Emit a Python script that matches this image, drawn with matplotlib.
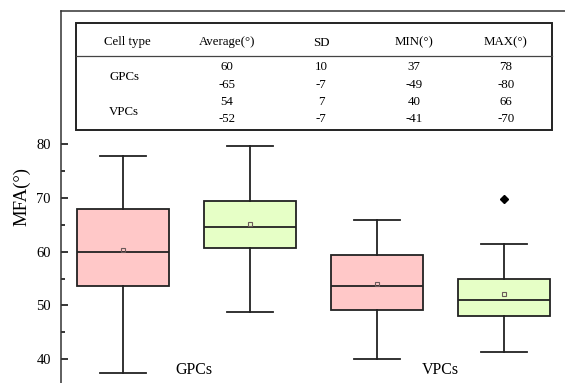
import matplotlib.pyplot as plt
from matplotlib.patches import Rectangle

plt.rcParams['font.family'] = ['Liberation Serif', 'DejaVu Serif']

# box statistics
groups = ['GPCs', 'VPCs']
positions = [1, 2, 3, 4]
whislo = [37.4, 48.8, 40.0, 41.4]
q1 = [53.7, 60.6, 49.1, 48.0]
med = [60.0, 64.5, 53.55, 51.0]
q3 = [68.0, 69.5, 59.4, 54.9]
whishi = [77.8, 79.7, 65.9, 61.4]
means = [60.4, 65.1, 54.0, 52.2]
fliers = [[], [], [], [69.8]]
box_colors = ['#FFC8C8', '#E6FFC6', '#FFC8C8', '#E6FFC6']

# inset table
table_header = ['Cell type', 'Average(°)', 'SD', 'MIN(°)', 'MAX(°)']
table_rows = [
    ['60', '10', '37', '78'],
    ['-65', '-7', '-49', '-80'],
    ['54', '7', '40', '66'],
    ['-52', '-7', '-41', '-70'],
]

W, H = 565, 383
fig = plt.figure(figsize=(W / 100, H / 100), dpi=100)
ax = fig.add_axes([60.5 / W, 0, (570 - 60.5) / W, (H - 11) / H])

stats = []
for i in range(len(positions)):
    stats.append(dict(whislo=whislo[i], q1=q1[i], med=med[i], q3=q3[i],
                      whishi=whishi[i], mean=means[i], fliers=fliers[i]))

edge = '#222222'
bp = ax.bxp(stats, positions=positions, widths=0.725, patch_artist=True,
            showmeans=True, showfliers=True,
            boxprops=dict(edgecolor=edge, linewidth=1.3),
            medianprops=dict(color=edge, linewidth=1.3),
            whiskerprops=dict(color=edge, linewidth=1.3),
            capprops=dict(color=edge, linewidth=1.3),
            capwidths=0.36,
            meanprops=dict(marker='s', markersize=3.5, markerfacecolor='none',
                           markeredgecolor='#6b5a5a', markeredgewidth=0.8),
            flierprops=dict(marker='D', markersize=4.2, markerfacecolor='black',
                            markeredgecolor='black'))
for patch, c in zip(bp['boxes'], box_colors):
    patch.set_facecolor(c)

ax.set_xlim(0.508, 4.52)
ax.set_ylim(35.55, 104.8)
ax.set_yticks([40, 50, 60, 70, 80])
ax.set_yticks([45, 55, 65, 75], minor=True)
ax.set_xticks([])
ax.tick_params(axis='y', direction='in', length=5, width=1.1, labelsize=10.5, pad=7)
ax.tick_params(axis='y', which='minor', direction='in', length=3, width=1.1)
ax.spines['bottom'].set_visible(False)
ax.spines['right'].set_visible(False)
for s in ['left', 'top']:
    ax.spines[s].set_linewidth(1.1)
    ax.spines[s].set_color('#333333')
ax.set_ylabel('MFA(°)', fontsize=13.5, labelpad=4)

ax.text(1.56, 38.0, groups[0], fontsize=11.5, ha='center', va='center')
ax.text(3.5, 38.0, groups[1], fontsize=11.5, ha='center', va='center')

# table drawn in figure pixel coordinates
def fx(px):
    return px / W

def fy(py):
    return 1 - py / H

fig.patches.append(Rectangle((fx(75.7), fy(130)), fx(552.3) - fx(75.7), fy(23) - fy(130),
                             transform=fig.transFigure, fill=True, facecolor='white',
                             edgecolor='#222222', linewidth=1.4, zorder=5))
fig.add_artist(plt.Line2D([fx(75.7), fx(552.3)], [fy(56), fy(56)],
                          transform=fig.transFigure, color='#444444', linewidth=0.9, zorder=6))

col_x = [127, 227, 321, 414, 506]
for x, h in zip(col_x, table_header):
    fig.text(fx(x), fy(42.5), h, fontsize=9.3, ha='center', va='center', zorder=7)
row_y = [66.5, 85.5, 102, 119.5]
for y, row in zip(row_y, table_rows):
    for x, v in zip(col_x[1:], row):
        fig.text(fx(x), fy(y), v, fontsize=9.3, ha='center', va='center', zorder=7)
fig.text(fx(124), fy(76.5), groups[0], fontsize=9.3, ha='center', va='center', zorder=7)
fig.text(fx(124), fy(112), groups[1], fontsize=9.3, ha='center', va='center', zorder=7)

fig.savefig('out.png', dpi=100)
